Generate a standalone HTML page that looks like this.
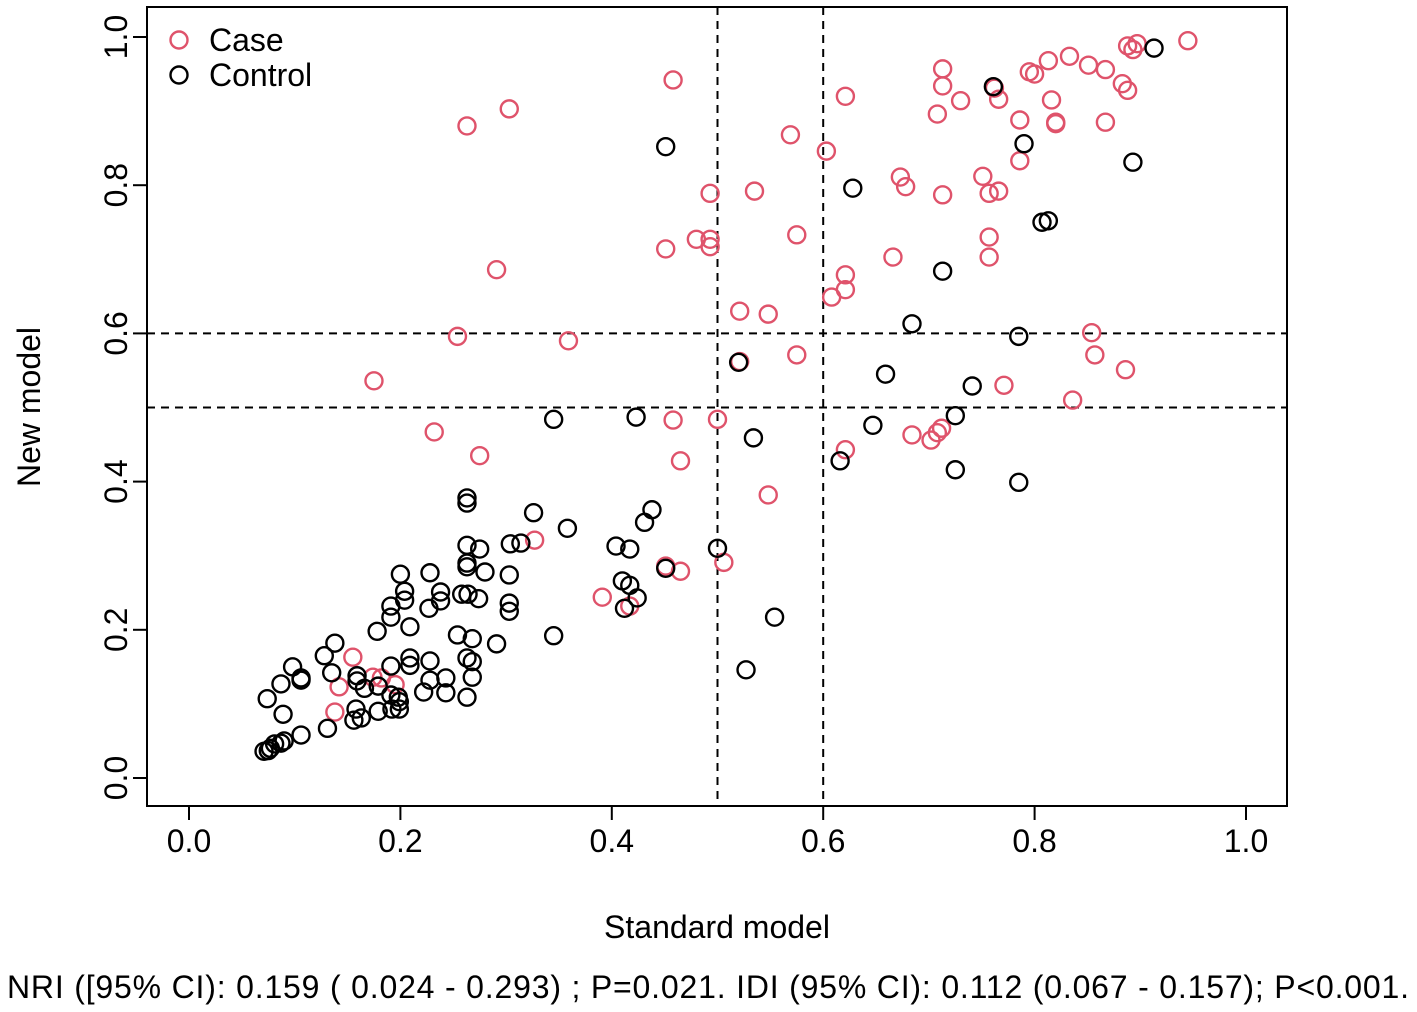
<!DOCTYPE html>
<html><head><meta charset="utf-8"><style>
body{margin:0;background:#fff;}
svg{display:block;font-family:"Liberation Sans",sans-serif;}
</style></head><body>
<svg id="chart" width="1417" height="1012"></svg>
<script>
const caseX=[0.945,0.897,0.893,0.888,0.833,0.851,0.813,0.867,0.795,0.800,0.713,0.458,0.883,0.888,0.762,0.713,0.766,0.730,0.816,0.621,0.708,0.303,0.263,0.786,0.820,0.820,0.867,0.569,0.603,0.786,0.673,0.751,0.678,0.766,0.757,0.713,0.535,0.493,0.480,0.493,0.493,0.451,0.575,0.757,0.757,0.666,0.291,0.621,0.621,0.608,0.521,0.548,0.254,0.359,0.854,0.575,0.857,0.175,0.771,0.886,0.836,0.458,0.500,0.232,0.684,0.712,0.708,0.702,0.621,0.275,0.465,0.548,0.327,0.451,0.465,0.506,0.391,0.417,0.155,0.142,0.174,0.182,0.195,0.138,0.521];
const caseY=[0.995,0.991,0.983,0.988,0.974,0.962,0.968,0.956,0.953,0.950,0.957,0.942,0.937,0.928,0.931,0.934,0.916,0.914,0.915,0.920,0.896,0.903,0.880,0.888,0.885,0.883,0.885,0.868,0.846,0.833,0.811,0.812,0.798,0.792,0.789,0.787,0.792,0.789,0.727,0.727,0.717,0.714,0.733,0.730,0.703,0.703,0.686,0.679,0.659,0.649,0.630,0.626,0.596,0.590,0.601,0.571,0.571,0.536,0.530,0.551,0.510,0.483,0.484,0.467,0.463,0.472,0.466,0.456,0.443,0.435,0.428,0.382,0.321,0.286,0.279,0.291,0.244,0.232,0.163,0.123,0.136,0.135,0.126,0.089,0.562];
const ctrlX=[0.913,0.761,0.451,0.790,0.893,0.628,0.807,0.813,0.713,0.684,0.785,0.520,0.659,0.741,0.725,0.345,0.423,0.647,0.534,0.616,0.725,0.785,0.263,0.263,0.326,0.438,0.358,0.431,0.314,0.304,0.404,0.417,0.500,0.263,0.275,0.263,0.263,0.280,0.303,0.200,0.228,0.451,0.410,0.417,0.204,0.204,0.238,0.238,0.258,0.264,0.274,0.424,0.303,0.303,0.191,0.227,0.412,0.191,0.554,0.209,0.178,0.345,0.254,0.268,0.291,0.138,0.128,0.263,0.268,0.228,0.209,0.209,0.098,0.191,0.527,0.135,0.159,0.159,0.106,0.106,0.243,0.268,0.228,0.087,0.179,0.166,0.222,0.243,0.263,0.191,0.198,0.074,0.199,0.199,0.192,0.179,0.158,0.089,0.163,0.156,0.131,0.106,0.090,0.087,0.081,0.077,0.071,0.075];
const ctrlY=[0.985,0.933,0.852,0.856,0.831,0.796,0.750,0.752,0.684,0.613,0.596,0.561,0.545,0.529,0.489,0.484,0.487,0.476,0.459,0.428,0.416,0.399,0.378,0.371,0.358,0.362,0.337,0.345,0.317,0.316,0.313,0.309,0.310,0.314,0.309,0.290,0.285,0.278,0.274,0.275,0.277,0.283,0.266,0.260,0.252,0.240,0.251,0.239,0.248,0.248,0.242,0.243,0.236,0.225,0.232,0.229,0.229,0.217,0.217,0.204,0.198,0.192,0.193,0.188,0.181,0.182,0.165,0.162,0.157,0.158,0.162,0.152,0.150,0.151,0.146,0.142,0.138,0.131,0.135,0.132,0.135,0.136,0.132,0.127,0.124,0.121,0.116,0.115,0.109,0.112,0.109,0.107,0.103,0.093,0.093,0.090,0.093,0.086,0.081,0.078,0.067,0.058,0.050,0.047,0.046,0.040,0.036,0.037];
const xTicks=[0.0,0.2,0.4,0.6,0.8,1.0];
const yTicks=[0.0,0.2,0.4,0.6,0.8,1.0];
const xTickLabels=["0.0","0.2","0.4","0.6","0.8","1.0"];
const yTickLabels=["0.0","0.2","0.4","0.6","0.8","1.0"];
const vCuts=[0.5,0.6];
const hCuts=[0.5,0.6];

const NS="http://www.w3.org/2000/svg";
const svg=document.getElementById('chart');
const X=v=>189+v*1057;
const Y=v=>778-v*741;
function mk(tag,attrs,parent){const e=document.createElementNS(NS,tag);for(const k in attrs)e.setAttribute(k,attrs[k]);(parent||svg).appendChild(e);return e;}

const box=mk('rect',{x:147,y:7,width:1140,height:799,fill:'none',stroke:'#000','stroke-width':2});



vCuts.forEach(v=>{const l=mk('line',{x1:X(v),x2:X(v),y1:7,y2:806,stroke:'#000','stroke-width':2,'stroke-dasharray':'8,6'});

});
hCuts.forEach(v=>{const l=mk('line',{x1:147,x2:1287,y1:Y(v),y2:Y(v),stroke:'#000','stroke-width':2,'stroke-dasharray':'8,6'});

});

xTicks.forEach((v,i)=>{
 const t=mk('line',{x1:X(v),x2:X(v),y1:806,y2:820,stroke:'#000','stroke-width':2});
 
 
 const tx=mk('text',{x:X(v),y:852,'font-size':32,'text-anchor':'middle'});tx.textContent=xTickLabels[i];
 
 
});
yTicks.forEach((v,i)=>{
 const t=mk('line',{x1:133,x2:147,y1:Y(v),y2:Y(v),stroke:'#000','stroke-width':2});
 
 
 const tx=mk('text',{x:0,y:0,'font-size':32,'text-anchor':'middle',transform:`translate(127,${Y(v)}) rotate(-90)`});tx.textContent=yTickLabels[i];
 
 
});

function pts(xs,ys,color,name){xs.forEach((x,i)=>{
 const c=mk('circle',{cx:X(x),cy:Y(ys[i]),r:8.5,fill:'none',stroke:color,'stroke-width':2.4});
 
 
});}
pts(caseX,caseY,'#DF536B','case-point');
pts(ctrlX,ctrlY,'#000','control-point');

const lg=[['Case','#DF536B',40],['Control','#000',75]];
lg.forEach(([t,c,y])=>{
 const ci=mk('circle',{cx:179,cy:y,r:8.5,fill:'none',stroke:c,'stroke-width':2.4});
 
 
 const tx=mk('text',{x:209,y:y+11,'font-size':32});tx.textContent=t;
 
 
});

const xt=mk('text',{x:717,y:938,'font-size':32,'text-anchor':'middle'});xt.textContent='Standard model';


const yt=mk('text',{x:0,y:0,'font-size':32,'text-anchor':'middle',transform:'translate(40,407) rotate(-90)'});yt.textContent='New model';


const ft=mk('text',{x:708,y:998,'font-size':32,'text-anchor':'middle',textLength:1402});ft.textContent='NRI ([95% CI): 0.159 ( 0.024 - 0.293) ; P=0.021. IDI (95% CI): 0.112 (0.067 - 0.157); P<0.001.';


</script>
</body></html>
